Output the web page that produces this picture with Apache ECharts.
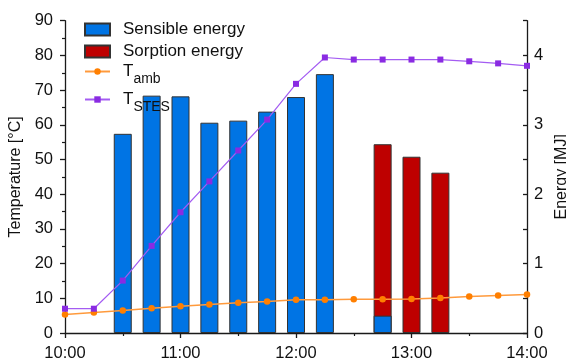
<!DOCTYPE html>
<html><head><meta charset="utf-8">
<script src="https://cdn.jsdelivr.net/npm/echarts@6/dist/echarts.min.js"></script>
<style>html,body{margin:0;padding:0;background:#fff}#c{width:566px;height:361px}</style>
</head><body><div id="c"></div>
<script>
// ---- data ----
const times = ['10:00','10:15','10:30','10:45','11:00','11:15','11:30','11:45','12:00','12:15','12:30','12:45','13:00','13:15','13:30','13:45','14:00'];
const tAmb  = [5.3, 5.9, 6.5, 7.1, 7.7, 8.2, 8.7, 9.1, 9.6, 9.6, 9.7, 9.7, 9.8, 10.1, 10.5, 10.8, 11.1];
const tStes = [7.0, 7.0, 15.1, 25.1, 34.8, 43.7, 52.6, 61.5, 71.8, 79.4, 78.8, 78.8, 78.8, 78.8, 78.3, 77.7, 77.0];
const barTimes = ['10:30','10:45','11:00','11:15','11:30','11:45','12:00','12:15','12:30','12:45','13:00','13:15'];
// sensible energy per bar [MJ]
const sensibleEnergy = [2.87, 3.42, 3.41, 3.03, 3.06, 3.19, 3.40, 3.73, null, 0.25, null, null];
// sorption energy bar tops [MJ] (at 12:45 the bar starts above the sensible part)
const sorptionEnergy = [null, null, null, null, null, null, null, null, null, 2.72, 2.54, 2.31];
const xTickLabels = ['10:00','11:00','12:00','13:00','14:00'];
const seriesNames = ['Sensible energy','Sorption energy','T_amb','T_STES'];

const toHours = s => { const p = s.split(':').map(Number); return p[0] + p[1] / 60; };
const pair = (ts, vs) => ts.map((t, i) => [toHours(t), vs[i]]);

const FONT = "'Liberation Sans', Arial, sans-serif";
const AX = '#1a1a1a';
const chart = echarts.init(document.getElementById('c'), null, {renderer: 'canvas'});

const legendBase = {
  orient: 'vertical', left: 79, itemWidth: 25,
  textStyle: {fontFamily: FONT, fontSize: 17, color: '#111', padding: [0,0,0,8],
    rich: {t: {fontFamily: FONT, fontSize: 17, color: '#111'},
           s: {fontFamily: FONT, fontSize: 14, color: '#111', padding: [16,0,0,0]}}},
  formatter: n => n === 'T_amb' ? '{t|T}{s|amb}' : n === 'T_STES' ? '{t|T}{s|STES}' : n,
  selectedMode: false
};

chart.setOption({
  animation: false,
  backgroundColor: '#fff',
  grid: {left: 65, right: 39, top: 20.7, bottom: 28, outerBoundsMode: 'none'},
  legend: [
    Object.assign({}, legendBase, {data: [{name: seriesNames[0], icon: 'rect'}], top: 16, itemHeight: 12}),
    Object.assign({}, legendBase, {data: [{name: seriesNames[1], icon: 'rect'}], top: 38, itemHeight: 12}),
    Object.assign({}, legendBase, {data: [seriesNames[2]], top: 58, itemHeight: 8}),
    Object.assign({}, legendBase, {data: [seriesNames[3]], top: 86, itemHeight: 8})
  ],
  xAxis: {
    type: 'value', min: 10, max: 14, interval: 1,
    axisLine: {show: true, lineStyle: {color: AX, width: 1.3}},
    axisTick: {show: true, inside: false, length: 5, lineStyle: {color: AX, width: 1.3}},
    minorTick: {show: true, splitNumber: 2, length: 3, lineStyle: {color: AX, width: 1.2}},
    splitLine: {show: false},
    axisLabel: {fontFamily: FONT, fontSize: 16.5, color: '#111', margin: 12,
      formatter: v => xTickLabels[Math.round(v - 10)] || ''}
  },
  yAxis: [
    {
      type: 'value', min: 0, max: 90, interval: 10, position: 'left',
      name: 'Temperature [°C]', nameLocation: 'middle', nameGap: 39,
      nameTextStyle: {fontFamily: FONT, fontSize: 16, color: '#111'},
      axisLine: {show: true, lineStyle: {color: AX, width: 1.3}},
      axisTick: {show: true, inside: false, length: 5, lineStyle: {color: AX, width: 1.3}},
      minorTick: {show: true, splitNumber: 2, length: 3, lineStyle: {color: AX, width: 1.2}},
      splitLine: {show: false},
      axisLabel: {fontFamily: FONT, fontSize: 16.5, color: '#111', margin: 12}
    },
    {
      type: 'value', min: 0, max: 4.5, interval: 0.5, position: 'right',
      name: 'Energy [MJ]', nameLocation: 'middle', nameGap: 19,
      nameTextStyle: {fontFamily: FONT, fontSize: 16, color: '#111'},
      axisLine: {show: true, lineStyle: {color: AX, width: 1.3}},
      axisTick: {show: true, inside: true, length: 4, lineStyle: {color: AX, width: 1.3}},
      splitLine: {show: false},
      axisLabel: {fontFamily: FONT, fontSize: 16.5, color: '#111', margin: 7,
        formatter: v => Math.abs(v - Math.round(v)) < 1e-6 && v < 4.4 ? String(Math.round(v)) : ''}
    }
  ],
  series: [
    {
      name: seriesNames[0], type: 'bar', yAxisIndex: 1, barWidth: 18, barGap: '-100%', z: 3,
      itemStyle: {color: '#0074E4', borderColor: '#333', borderWidth: 1},
      data: pair(barTimes, sensibleEnergy)
    },
    {
      name: seriesNames[1], type: 'bar', yAxisIndex: 1, barWidth: 18, barGap: '-100%', z: 2,
      itemStyle: {color: '#BE0000', borderColor: '#333', borderWidth: 1},
      data: pair(barTimes, sorptionEnergy)
    },
    {
      name: seriesNames[2], type: 'line', yAxisIndex: 0, z: 4,
      symbol: 'circle', symbolSize: 6.5,
      lineStyle: {color: '#FF9A3C', width: 1.5},
      itemStyle: {color: '#FF7F00'},
      data: pair(times, tAmb)
    },
    {
      name: seriesNames[3], type: 'line', yAxisIndex: 0, z: 5,
      symbol: 'rect', symbolSize: 6,
      lineStyle: {color: '#A45CF2', width: 1.2},
      itemStyle: {color: '#8A2BE2'},
      data: pair(times, tStes)
    }
  ]
});
</script></body></html>
